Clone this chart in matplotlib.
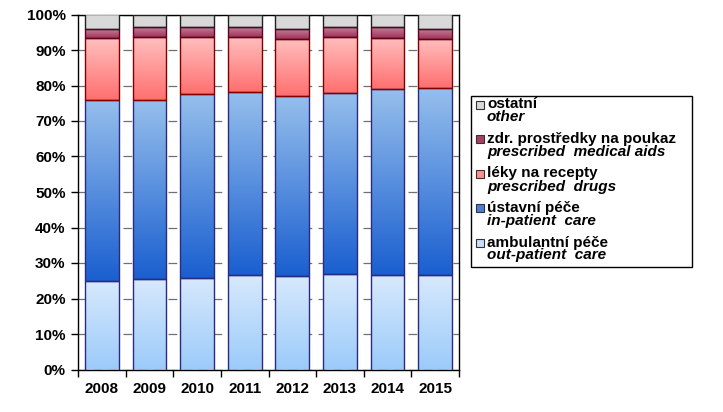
import numpy as np
import matplotlib
matplotlib.use("Agg")
import matplotlib.pyplot as plt
from matplotlib.colors import LinearSegmentedColormap
from matplotlib.patches import Rectangle

plt.rcParams['font.family'] = ['Liberation Sans', 'DejaVu Sans']

years = ['2008', '2009', '2010', '2011', '2012', '2013', '2014', '2015']
out_patient = [25.0, 25.6, 25.9, 26.5, 26.3, 27.0, 26.7, 26.7]
in_patient = [51.0, 50.4, 51.8, 51.6, 50.8, 51.0, 52.2, 52.5]
drugs = [17.3, 17.6, 15.9, 15.5, 16.1, 15.8, 14.6, 14.0]
med_aids = [2.5, 2.8, 2.8, 2.8, 2.6, 2.6, 2.9, 2.6]
other = [4.2, 3.6, 3.6, 3.6, 4.2, 3.6, 3.6, 4.2]

series = [
    (out_patient, ('#9ccbfa', '#d8e9fd'), '#2a2a80', '#c9def8', 'ambulantní péče', 'out-patient  care'),
    (in_patient, ('#1a5fd0', '#96bfec'), '#2a2a80', '#4a7fd4', 'ústavní péče', 'in-patient  care'),
    (drugs, ('#ff6f6f', '#ffbfbf'), '#800000', '#ff9090', 'léky na recepty', 'prescribed  drugs'),
    (med_aids, ('#a0335a', '#c47f9a'), '#600020', '#a8405f', 'zdr. prostředky na poukaz', 'prescribed  medical aids'),
    (other, ('#d9d9d9', '#d9d9d9'), '#202020', '#d9d9d9', 'ostatní', 'other'),
]

fig = plt.figure(figsize=(7.23, 4.12), dpi=100)
ax = fig.add_axes([78/723, 1 - 369.5/412, (459 - 78)/723, (369.5 - 14.5)/412])

x = np.arange(len(years))
width = 0.71
bottom = np.zeros(len(years))
grad = np.linspace(0, 1, 256).reshape(-1, 1)
for vals, (c0, c1), ec, lc, cz, en in series:
    vals = np.array(vals)
    cmap = LinearSegmentedColormap.from_list('g', [c0, c1])
    bars = ax.bar(x, vals, width, bottom=bottom, facecolor='none', edgecolor=ec,
                  linewidth=1.0, zorder=4)
    for p in bars:
        x0, y0 = p.get_x(), p.get_y()
        im = ax.imshow(grad, cmap=cmap, origin='lower', aspect='auto',
                       extent=(x0, x0 + p.get_width(), y0, y0 + p.get_height()),
                       zorder=3, interpolation='bilinear')
        im.set_clip_path(p)
    bottom += vals

ax.set_xlim(-0.5, len(years) - 0.5)
ax.set_ylim(0, 100)
ax.set_yticks(np.arange(0, 101, 10))
ax.set_yticklabels([f'{v}%' for v in range(0, 101, 10)], fontsize=11, fontweight='bold')
ax.set_xticks(x)
ax.set_xticklabels(years, fontsize=11, fontweight='bold')
ax.set_xticks(np.arange(-0.5, len(years), 1), minor=True)
ax.tick_params(axis='x', which='major', length=0, pad=9)
ax.tick_params(axis='x', which='minor', length=5, direction='out', width=1)
ax.tick_params(axis='y', length=5, direction='out', width=1, pad=4)
ax.yaxis.grid(True, color='#707070', linestyle=(0, (7, 5)), linewidth=0.9, zorder=1)
ax.set_axisbelow(True)
for s in ax.spines.values():
    s.set_linewidth(1.0)
    s.set_color('black')

# legend
lx0, ly0, lx1, ly1 = 470.7, 95.7, 691.7, 267.3
W, H = 723, 412
fig.patches.append(Rectangle((lx0 / W, 1 - ly1 / H), (lx1 - lx0) / W, (ly1 - ly0) / H,
                             transform=fig.transFigure, facecolor='white',
                             edgecolor='black', linewidth=1.0))
for i, (vals, cs, ec, lc, cz, en) in enumerate(reversed(series)):
    yc = 104.5 + i * 34.5
    fig.patches.append(Rectangle((476 / W, 1 - (yc + 4) / H), 8 / W, 8 / H,
                                 transform=fig.transFigure, facecolor=lc,
                                 edgecolor='#333333', linewidth=0.8))
    fig.text(487 / W, 1 - yc / H, cz, fontsize=11, fontweight='bold',
             va='center', ha='left')
    fig.text(487 / W, 1 - (yc + 13) / H, en, fontsize=11, fontweight='bold',
             style='italic', va='center', ha='left')

fig.savefig('out.png', dpi=100)
